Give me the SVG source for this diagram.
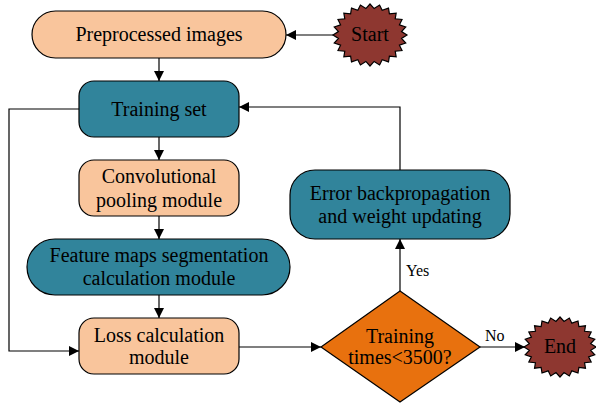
<svg xmlns="http://www.w3.org/2000/svg" xmlns:xlink="http://www.w3.org/1999/xlink" width="596" height="403" viewBox="0 0 596 403">
<style>
.t{font-family:"Liberation Serif","Times New Roman",serif;font-size:20px;fill:#000;text-anchor:middle}
.s{font-family:"Liberation Serif","Times New Roman",serif;font-size:16px;fill:#000}
.peach{fill:#F9C59C;stroke:#000;stroke-width:1.2}
.teal{fill:#31849B;stroke:#000;stroke-width:1.2}
.dia{fill:#E8710E;stroke:#000;stroke-width:1.2}
.star{fill:#8E3730;stroke:#000;stroke-width:1.2;vector-effect:non-scaling-stroke}
.c{fill:none;stroke:#000;stroke-width:1.2}
</style>
<defs>
<marker id="a" viewBox="0 0 10 10" refX="10" refY="5" markerWidth="10" markerHeight="10" markerUnits="userSpaceOnUse" orient="auto">
<path d="M0,0 L10,5 L0,10 z" fill="#000"/>
</marker>
<polygon id="star" class="star" points="1,0 0.853,0.112 0.966,0.259 0.795,0.329 0.866,0.5 0.682,0.524 0.707,0.707 0.524,0.682 0.5,0.866 0.329,0.795 0.259,0.966 0.112,0.853 0,1 -0.112,0.853 -0.259,0.966 -0.329,0.795 -0.5,0.866 -0.524,0.682 -0.707,0.707 -0.682,0.524 -0.866,0.5 -0.795,0.329 -0.966,0.259 -0.853,0.112 -1,0 -0.853,-0.112 -0.966,-0.259 -0.795,-0.329 -0.866,-0.5 -0.682,-0.524 -0.707,-0.707 -0.524,-0.682 -0.5,-0.866 -0.329,-0.795 -0.259,-0.966 -0.112,-0.853 0,-1 0.112,-0.853 0.259,-0.966 0.329,-0.795 0.5,-0.866 0.524,-0.682 0.707,-0.707 0.682,-0.524 0.866,-0.5 0.795,-0.329 0.966,-0.259 0.853,-0.112"/>
</defs>
<g id="connectors">
<path class="c" d="M333,35 H286" marker-end="url(#a)"/>
<path class="c" d="M159,58 V81" marker-end="url(#a)"/>
<path class="c" d="M159,137 V160" marker-end="url(#a)"/>
<path class="c" d="M159,216 V239" marker-end="url(#a)"/>
<path class="c" d="M159,295 V318" marker-end="url(#a)"/>
<path class="c" d="M79,109 H9 V351 H79" marker-end="url(#a)"/>
<path class="c" d="M239,347 H321" marker-end="url(#a)"/>
<path class="c" d="M400,291 V239" marker-end="url(#a)"/>
<path class="c" d="M400,170 V107 H239" marker-end="url(#a)"/>
<path class="c" d="M480,347 H525" marker-end="url(#a)"/>
<text class="s" x="406" y="276">Yes</text>
<text class="s" x="485" y="341">No</text>
</g>
<g id="start">
<use xlink:href="#star" transform="translate(370,35) scale(37,31)"/>
<text class="t" x="370" y="41">Start</text>
</g>
<g id="preprocessed">
<rect class="peach" x="32" y="11" width="254" height="47" rx="23.5"/>
<text class="t" x="159" y="41">Preprocessed images</text>
</g>
<g id="training-set">
<rect class="teal" x="79" y="81" width="160" height="56" rx="15"/>
<text class="t" x="159" y="116">Training set</text>
</g>
<g id="conv">
<rect class="peach" x="79" y="160" width="160" height="56" rx="15"/>
<text class="t" x="159" y="183">Convolutional</text>
<text class="t" x="159" y="207">pooling module</text>
</g>
<g id="feature">
<rect class="teal" x="27" y="239" width="263" height="56" rx="28"/>
<text class="t" x="159" y="262">Feature maps segmentation</text>
<text class="t" x="159" y="285">calculation module</text>
</g>
<g id="loss">
<rect class="peach" x="79" y="318" width="160" height="56" rx="15"/>
<text class="t" x="159" y="342">Loss calculation</text>
<text class="t" x="159" y="364">module</text>
</g>
<g id="error">
<rect class="teal" x="290" y="170" width="220" height="69" rx="25"/>
<text class="t" x="400" y="200">Error backpropagation</text>
<text class="t" x="400" y="223">and weight updating</text>
</g>
<g id="decision">
<polygon class="dia" points="321,347 400,291 480,347 400,402"/>
<text class="t" x="400" y="343">Training</text>
<text class="t" x="400" y="364">times&lt;3500?</text>
</g>
<g id="end">
<use xlink:href="#star" transform="translate(560,347) scale(36,30)"/>
<text class="t" x="560" y="353">End</text>
</g>
</svg>
